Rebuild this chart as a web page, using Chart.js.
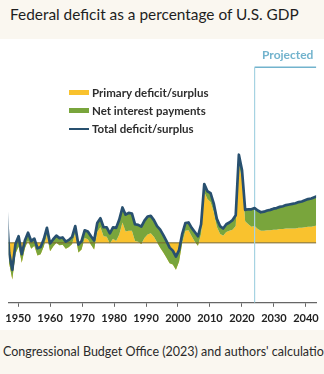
<!DOCTYPE html>
<html>
<head>
<meta charset="utf-8">
<script src="https://cdn.jsdelivr.net/npm/chart.js@4.4.0/dist/chart.umd.min.js"></script>
<style>
html, body { margin: 0; padding: 0; }
body { width: 324px; height: 374px; position: relative; overflow: hidden; background: #ffffff; font-family: Lato, "Open Sans", sans-serif; }
#topband { position: absolute; left: 0; top: 0; width: 324px; height: 39px; background: #faf7f0; }
#title { position: absolute; left: 10px; top: 4px; font-size: 15.4px; line-height: 20px; color: #1e1e1e; white-space: nowrap; }
#bottomband { position: absolute; left: 0; top: 330px; width: 324px; height: 44px; background: #faf7f0; }
#source { position: absolute; left: 3px; top: 344px; font-size: 12.5px; line-height: 16px; color: #2a2a2a; white-space: nowrap; }
#chart { position: absolute; left: 0; top: 39px; }
.lg { position: absolute; left: 92px; font-size: 11.5px; font-weight: bold; line-height: 14px; color: #2d2d2d; white-space: nowrap; }
.sw { position: absolute; left: 69px; width: 20px; }
#projected { position: absolute; left: 262px; top: 48px; font-size: 12px; font-weight: bold; line-height: 14px; color: #72b3cd; white-space: nowrap; }
</style>
</head>
<body>
<div id="topband"></div>
<div id="title">Federal deficit as a percentage of U.S. GDP</div>
<div id="bottomband"></div>
<div id="source">Congressional Budget Office (2023) and authors' calculations.</div>
<canvas id="chart" width="324" height="291"></canvas>
<div class="sw" style="top:90px;height:5px;background:#f9c22e;"></div>
<div class="lg" style="top:86px;">Primary deficit/surplus</div>
<div class="sw" style="top:108px;height:5px;background:#79a53c;"></div>
<div class="lg" style="top:104px;">Net interest payments</div>
<div class="sw" style="top:128px;height:2px;background:#28506f;"></div>
<div class="lg" style="top:122px;">Total deficit/surplus</div>
<div id="projected">Projected</div>
<script>
// Fiscal years shown (the chart is cropped at both ends)
const years = [
  1946, 1947, 1948, 1949, 1950, 1951, 1952, 1953, 1954, 1955,
  1956, 1957, 1958, 1959, 1960, 1961, 1962, 1963, 1964, 1965,
  1966, 1967, 1968, 1969, 1970, 1971, 1972, 1973, 1974, 1975,
  1976, 1977, 1978, 1979, 1980, 1981, 1982, 1983, 1984, 1985,
  1986, 1987, 1988, 1989, 1990, 1991, 1992, 1993, 1994, 1995,
  1996, 1997, 1998, 1999, 2000, 2001, 2002, 2003, 2004, 2005,
  2006, 2007, 2008, 2009, 2010, 2011, 2012, 2013, 2014, 2015,
  2016, 2017, 2018, 2019, 2020, 2021, 2022, 2023, 2024, 2025,
  2026, 2027, 2028, 2029, 2030, 2031, 2032, 2033, 2034, 2035,
  2036, 2037, 2038, 2039, 2040, 2041, 2042, 2043, 2044, 2045
];
// Total deficit (+) / surplus (-), % of GDP
const totalDeficit = [
   7.0, -1.7, -4.5, -0.2,  1.1, -1.9,  0.4,  1.7,  0.3,  0.7,
  -0.9, -0.7,  0.6,  2.5, -0.1,  0.6,  1.2,  0.8,  0.9,  0.2,
   0.5,  1.0,  2.8, -0.3,  0.3,  2.1,  1.9,  1.1,  0.4,  3.3,
   4.1,  2.6,  2.6,  1.6,  2.6,  2.5,  3.9,  5.9,  4.7,  5.0,
   4.9,  3.1,  3.0,  2.7,  3.7,  4.4,  4.5,  3.8,  2.8,  2.2,
   1.3,  0.3, -0.8, -1.3, -2.3, -1.2,  1.5,  3.3,  3.4,  2.5,
   1.8,  1.1,  3.1,  9.8,  8.6,  8.3,  6.6,  4.0,  2.8,  2.4,
   3.1,  3.4,  3.8,  4.6, 14.7, 12.1,  5.5,  5.6,  5.6,  5.8,
   5.4,  5.1,  5.2,  5.4,  5.5,  5.7,  5.8,  6.0,  6.1,  6.3,
   6.4,  6.5,  6.6,  6.8,  6.9,  7.1,  7.3,  7.4,  7.6,  7.8
];
// Primary deficit (+) / surplus (-), % of GDP (total minus net interest)
const primaryDeficit = [
   5.3, -3.4, -6.1, -1.8, -0.6, -3.3, -0.9,  0.4, -1.0, -0.5,
  -2.1, -1.9, -0.6,  1.3, -1.4, -0.6,  0.0, -0.4, -0.3, -1.0,
  -0.7, -0.2,  1.6, -1.6, -1.1,  0.8,  0.6, -0.3, -1.1,  1.8,
   2.6,  1.1,  1.0, -0.1,  0.7,  0.3,  1.4,  3.4,  1.9,  2.0,
   2.0,  0.3,  0.2, -0.2,  0.8,  1.4,  1.6,  1.0,  0.1, -0.8,
  -1.6, -2.5, -3.4, -3.6, -4.5, -3.1,  0.0,  2.0,  2.1,  1.1,
   0.2, -0.5,  1.5,  8.5,  7.3,  6.8,  5.2,  2.7,  1.5,  1.2,
   1.8,  2.0,  2.2,  2.8, 13.1, 10.6,  3.6,  3.1,  2.7,  2.8,
   2.3,  2.0,  2.0,  2.1,  2.1,  2.2,  2.2,  2.3,  2.3,  2.4,
   2.4,  2.4,  2.4,  2.5,  2.5,  2.6,  2.7,  2.7,  2.8,  2.9
];
const tickYears = [1950, 1960, 1970, 1980, 1990, 2000, 2010, 2020, 2030, 2040];
const projectionStart = 2025;

const YELLOW = '#f9c22e';
const GREEN = '#79a53c';
const BLUE = '#28506f';

const pts = (vals) => years.map((yr, i) => ({ x: yr, y: vals[i] }));

new Chart(document.getElementById('chart'), {
  type: 'line',
  data: {
    datasets: [
      { label: 'Primary deficit/surplus', data: pts(primaryDeficit), xAxisID: 'x', yAxisID: 'y',
        backgroundColor: YELLOW, borderWidth: 0, pointRadius: 0, fill: 'origin', order: 5, tension: 0 },
      { label: 'Net interest payments', data: pts(totalDeficit), xAxisID: 'x', yAxisID: 'y',
        backgroundColor: GREEN, borderWidth: 0, pointRadius: 0, fill: 0, order: 4, tension: 0 },
      { label: 'zero', data: [{ x: 1940, y: 0 }, { x: 2050, y: 0 }], xAxisID: 'x', yAxisID: 'y',
        borderColor: '#76662f', borderWidth: 1, pointRadius: 0, fill: false, order: 3 },
      { label: 'projected-v', data: [{ x: projectionStart, y: -10 }, { x: projectionStart, y: 29.3 }], xAxisID: 'x', yAxisID: 'y',
        borderColor: '#a6d3e2', borderWidth: 1.2, pointRadius: 0, fill: false, order: 2 },
      { label: 'projected-h', data: [{ x: projectionStart, y: 29.3 }, { x: 2050, y: 29.3 }], xAxisID: 'x', yAxisID: 'y',
        borderColor: '#72b3cd', borderWidth: 1.5, pointRadius: 0, fill: false, order: 2 },
      { label: 'Total deficit/surplus', data: pts(totalDeficit), xAxisID: 'x', yAxisID: 'y',
        borderColor: BLUE, borderWidth: 2.7, pointRadius: 0, fill: false, order: 1, tension: 0,
        borderJoinStyle: 'round', borderCapStyle: 'round' }
    ]
  },
  options: {
    responsive: false,
    animation: false,
    devicePixelRatio: 1,
    layout: { padding: { top: 24, left: 0, right: 0, bottom: 0 }, autoPadding: false },
    plugins: { legend: { display: false }, tooltip: { enabled: false } },
    scales: {
      x: { type: 'linear', min: 1946.80, max: 2044.54, display: false },
      y: { type: 'linear', min: -10, max: 30, display: false },
      xt: {
        type: 'linear', position: 'bottom', min: 1947.033, max: 2043.16,
        afterBuildTicks: (axis) => { axis.ticks = tickYears.map(v => ({ value: v })); },
        ticks: { callback: (v) => String(v), font: { family: 'Lato', size: 11, weight: 'bold' },
                 color: '#222222', padding: 5, maxRotation: 0, autoSkip: false },
        grid: { drawOnChartArea: false, drawTicks: true, tickLength: 4, color: '#666666', lineWidth: 1 },
        border: { display: true, color: '#666666', width: 1.3 }
      }
    }
  }
});
</script>
</body>
</html>
